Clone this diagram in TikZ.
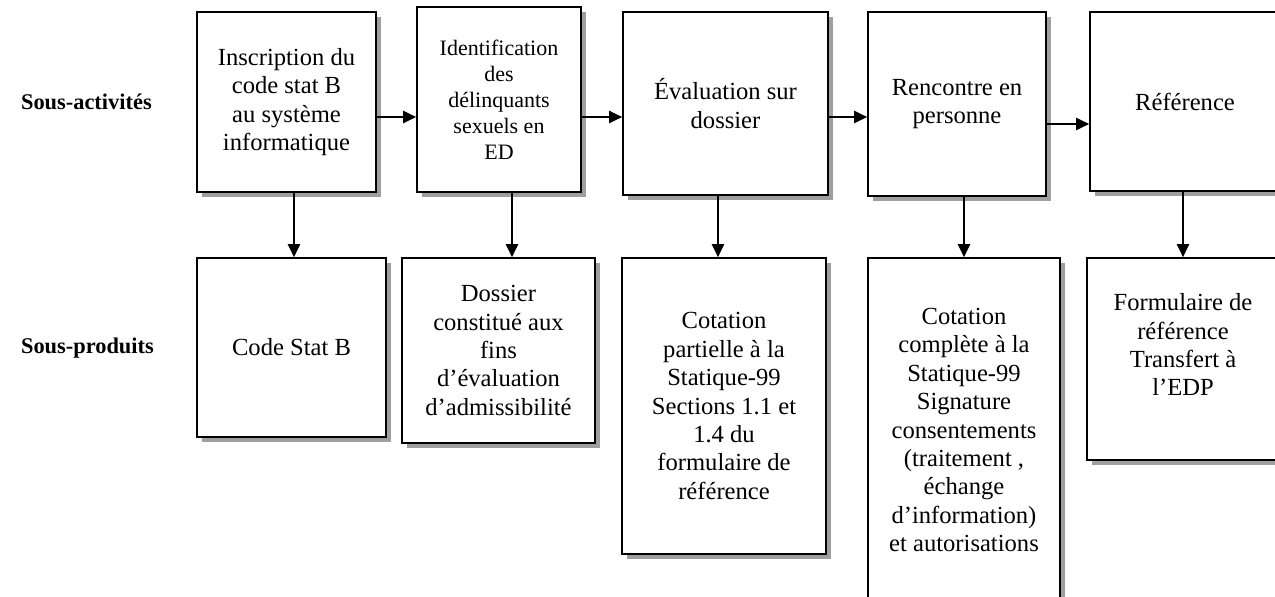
\documentclass[tikz,border=0pt]{standalone}
\usepackage{fontspec}
\setmainfont{Liberation Serif}
\usetikzlibrary{arrows.meta,shadows}

\begin{document}
\begin{tikzpicture}[x=0.5pt,y=-0.5pt,
  boite/.style={draw,line width=0.8pt,fill=white,inner sep=0pt,align=center,
    font=\fontsize{12.3pt}{14.2pt}\selectfont,
    drop shadow={shadow xshift=2.5pt,shadow yshift=-2.5pt,fill=gray!75,opacity=1}},
  titre/.style={anchor=west,font=\fontsize{11.2pt}{13pt}\selectfont\bfseries},
  fleche/.style={line width=1pt,-{Triangle[length=6.5pt,width=6pt]}}]
  \path[use as bounding box,clip] (0,0) rectangle (1275,596);

  % row labels
  \node[titre] (lact) at (14,102) {Sous-activités};
  \node[titre] (lprod) at (14,348) {Sous-produits};

  % sous-activites
  \node[boite,minimum width=89.5pt,minimum height=90pt] (a1) at (286.5,102)
    {Inscription du\\code stat B\\au système\\informatique};
  \node[boite,minimum width=82pt,minimum height=92.5pt,
    font=\fontsize{11pt}{13pt}\selectfont] (a2) at (499,99.5)
    {Identification\\des\\délinquants\\sexuels en\\ED};
  \node[boite,minimum width=102.5pt,minimum height=91.5pt] (a3) at (725.5,103.5)
    {Évaluation sur\\dossier};
  \node[boite,minimum width=89pt,minimum height=92pt] (a4) at (957,104)
    {Rencontre en\\personne};
  \node[boite,minimum width=95pt,minimum height=89.5pt] (a5) at (1185,101.5)
    {Référence};

  % sous-produits
  \node[boite,minimum width=94.5pt,minimum height=89.5pt] (b1) at (291.5,347.5)
    {Code Stat B};
  \node[boite,minimum width=96.5pt,minimum height=92.5pt] (b2) at (498.5,350.5)
    {Dossier\\constitué aux\\fins\\d’évaluation\\d’admissibilité};
  \node[boite,minimum width=102pt,minimum height=148pt] (b3) at (724,406)
    {Cotation\\partielle à la\\Statique-99\\Sections 1.1 et\\1.4 du\\formulaire de\\référence};
  \node[boite,minimum width=96pt,minimum height=172pt] (b4) at (964,430)
    {Cotation\\complète à la\\Statique-99\\Signature\\consentements\\(traitement ,\\échange\\d’information)\\et autorisations};
  \node[boite,minimum width=96pt,minimum height=101pt] (b5) at (1183,359)
    {Formulaire de\\référence\\Transfert à\\l’EDP\\\mbox{}};

  % connectors
  \foreach \p/\q/\y in {a1/a2/117, a2/a3/117, a3/a4/117, a4/a5/124}
    \draw[fleche] (\p.east |- 0,\y) -- (\q.west |- 0,\y);
  \foreach \p/\q/\x in {a1/b1/294, a2/b2/512, a3/b3/718, a4/b4/964, a5/b5/1183}
    \draw[fleche] (\p.south -| \x,0) -- (\q.north -| \x,0);
\end{tikzpicture}
\end{document}
